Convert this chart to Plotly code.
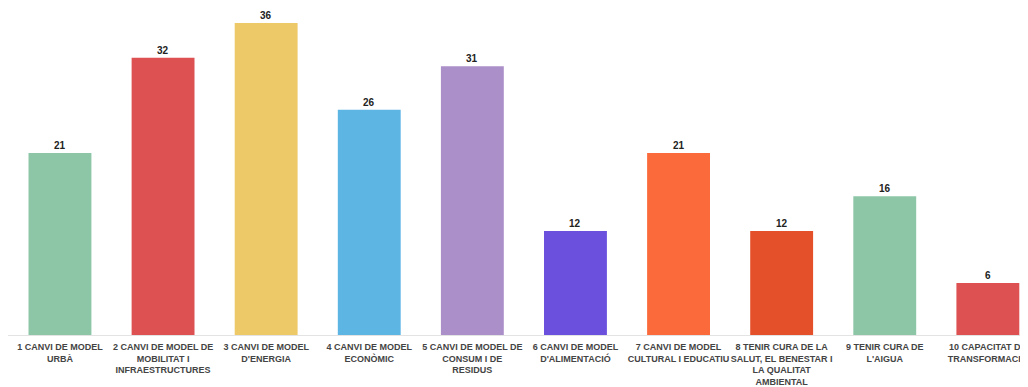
import plotly.graph_objects as go

categories = [
    "1 CANVI DE MODEL<br>URBÀ",
    "2 CANVI DE MODEL DE<br>MOBILITAT I<br>INFRAESTRUCTURES",
    "3 CANVI DE MODEL<br>D'ENERGIA",
    "4 CANVI DE MODEL<br>ECONÒMIC",
    "5 CANVI DE MODEL DE<br>CONSUM I DE<br>RESIDUS",
    "6 CANVI DE MODEL<br>D'ALIMENTACIÓ",
    "7 CANVI DE MODEL<br>CULTURAL I EDUCATIU",
    "8 TENIR CURA DE LA<br>SALUT, EL BENESTAR I<br>LA QUALITAT<br>AMBIENTAL",
    "9 TENIR CURA DE<br>L'AIGUA",
    "10 CAPACITAT DE<br>TRANSFORMACIÓ",
]
values = [21, 32, 36, 26, 31, 12, 21, 12, 16, 6]
colors = ["#8cc6a7", "#dd5153", "#eec968", "#5db5e4", "#ab8fc8",
          "#6a50dc", "#fb6a3a", "#e4502a", "#8cc6a7", "#dd5153"]

xs = list(range(len(categories)))
FONT = "Liberation Sans, Arial, sans-serif"

fig = go.Figure(go.Bar(
    x=xs,
    y=values,
    marker=dict(color=colors, line=dict(width=0)),
    width=0.61,
    hoverinfo="x+y",
))

for xi, v in zip(xs, values):
    fig.add_annotation(
        x=xi, y=v, text="<b>%d</b>" % v, showarrow=False,
        yanchor="bottom", xanchor="center", yshift=0,
        font=dict(family=FONT, size=10, color="#222222"),
    )

fig.update_layout(
    width=1028, height=387,
    margin=dict(l=0, r=0, t=2, b=60),
    paper_bgcolor="white", plot_bgcolor="white",
    showlegend=False,
    font=dict(family=FONT),
)
fig.update_xaxes(
    tickmode="array",
    tickvals=xs,
    ticktext=["<b>" + c.replace("<br>", "</b><br><b>") + "</b>" for c in categories],
    tickfont=dict(size=9, color="#444444", family=FONT),
    tickangle=0,
    range=[-0.504, 9.467],
    showline=True, linecolor="#e3e3e3", linewidth=1,
    showgrid=False, ticks="outside", ticklen=3, tickcolor="rgba(0,0,0,0)",
    automargin=False,
)
fig.update_yaxes(
    range=[0, 37.5],
    showgrid=False, showticklabels=False, zeroline=False, showline=False,
)

fig.write_html("out.html")
